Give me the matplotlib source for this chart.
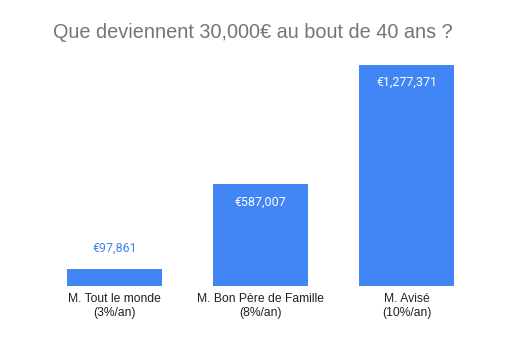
import matplotlib.pyplot as plt
import numpy as np

plt.rcParams['font.family'] = ['Roboto', 'DejaVu Sans']

# Data
categories = ['M. Tout le monde\n(3%/an)', 'M. Bon Père de Famille\n(8%/an)', 'M. Avisé\n(10%/an)']
values = [97861, 587007, 1277371]
labels = ['€97,861', '€587,007', '€1,277,371']

blue = '#4285f4'
W, H = 520, 351

fig = plt.figure(figsize=(W / 100, H / 100), dpi=100)
# axes placed in pixel terms: left 41.5, right 479.5, bottom at y=286, top at y=43.8
ax = fig.add_axes([41.5 / W, (H - 286) / H, 438 / W, 242.2 / H])

x = np.arange(len(categories))
bars = ax.bar(x, values, width=0.65, color=blue, zorder=2)
ax.set_xlim(-0.5, 2.5)
ax.set_ylim(0, 1.4e6)

# value labels: inside the bar when it is tall enough, above otherwise
for xi, v, lab in zip(x, values, labels):
    if v > 300000:
        ax.annotate(lab, (xi, v), xytext=(0, -8), textcoords='offset points',
                    ha='center', va='top', color='white', fontsize=9)
    else:
        ax.annotate(lab, (xi, v), xytext=(0, 15), textcoords='offset points',
                    ha='center', va='center', color=blue, fontsize=9)

ax.set_xticks(x)
ax.set_xticklabels(categories, fontsize=8.7, color='#222222', linespacing=1.25,
                   family=['Liberation Sans', 'DejaVu Sans'])
ax.tick_params(axis='x', length=0, pad=5)
ax.set_yticks([])
for s in ax.spines.values():
    s.set_visible(False)

fig.text(253 / W, 1 - 33 / H, 'Que deviennent 30,000€ au bout de 40 ans ?',
         ha='center', va='center', fontsize=14.3, color='#757575',
         family=['Liberation Sans', 'DejaVu Sans'])

fig.savefig('out.png', dpi=100)
